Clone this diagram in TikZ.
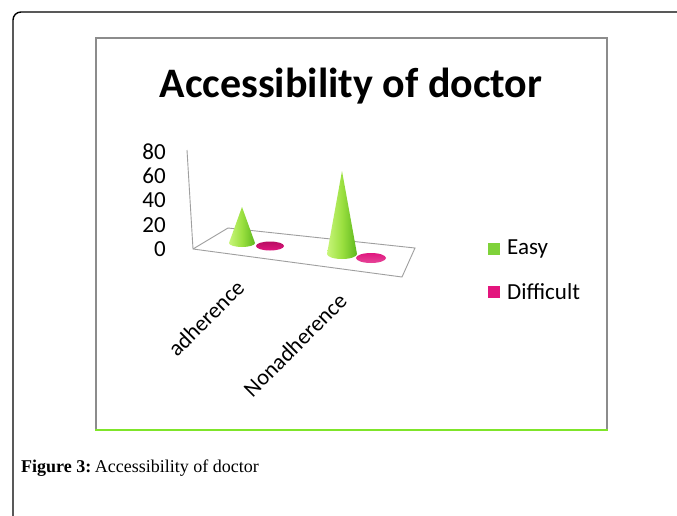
\documentclass[tikz,border=0pt]{standalone}
\usepackage{fontspec}
\setmainfont{Liberation Serif}
\newfontfamily\chartfont{Carlito}
\definecolor{boxgray}{HTML}{8C8C8C}
\definecolor{boxgreen}{HTML}{7FE52A}
\definecolor{coneL}{HTML}{C8F57A}
\definecolor{coneM}{HTML}{9BE040}
\definecolor{coneR}{HTML}{5EB81E}
\definecolor{pinkA}{HTML}{E0177F}
\definecolor{pinkB}{HTML}{B80E62}
\definecolor{legGreen}{HTML}{7FD23A}
\definecolor{legPink}{HTML}{E3157D}
\tikzset{
  axisline/.style={draw=gray!75, line width=0.9pt},
  ticklabel/.style={font=\chartfont\fontsize{23}{23}\selectfont, anchor=east, inner sep=0pt},
  catlabel/.style={font=\chartfont\fontsize{22.5}{22.5}\selectfont, rotate=45, inner sep=0pt},
  legtext/.style={font=\chartfont\fontsize{23}{23}\selectfont, anchor=west, inner sep=0pt},
}
\begin{document}
\begin{tikzpicture}[x=1pt,y=-1pt]
\useasboundingbox (0,0) rectangle (677,515);
\fill[white] (0,0) rectangle (677,515);
% outer frame
\draw[line width=1.4pt, black] (13,516) -- (13,20) arc[start angle=180, end angle=270, radius=8] -- (678,12);
% chart box
\draw[boxgray, line width=1.6pt] (96,429) -- (96,38) -- (607,38) -- (607,429);
\draw[boxgreen, line width=2pt] (95,430) -- (608,430);
% title
\node[font=\chartfont\bfseries\fontsize{42}{42}\selectfont, inner sep=0pt] (title) at (351,86) {Accessibility of doctor};
% tick labels
\node[ticklabel] (t80) at (166,152) {80};
\node[ticklabel] (t60) at (166,176) {60};
\node[ticklabel] (t40) at (166,200) {40};
\node[ticklabel] (t20) at (166,225) {20};
\node[ticklabel] (t0) at (166,249) {0};
% axes and floor
\coordinate (ytop) at (187,150);
\coordinate (o) at (193,249);
\coordinate (bl) at (228,228);
\coordinate (br) at (415,248);
\coordinate (fr) at (402,277);
\draw[axisline] (ytop) -- (o) -- (fr) -- (br) -- (bl) -- (o);
% cones
\shade[left color=coneL, right color=coneR, middle color=coneM]
  (229,243) -- (242,207) -- (255,243) arc[start angle=0, end angle=180, x radius=13, y radius=4] -- cycle;
\shade[left color=coneL, right color=coneR, middle color=coneM]
  (327,254) -- (342,171) -- (357,254) arc[start angle=0, end angle=180, x radius=15, y radius=5] -- cycle;
% pink disks
\shade[top color=pinkB, bottom color=pinkA] (270,246) ellipse[x radius=14, y radius=4.5];
\shade[top color=pinkA, bottom color=pinkA!80!white] (371,258) ellipse[x radius=15, y radius=5];
% category labels
\node[catlabel] (c1) at (206,318) {adherence};
\node[catlabel] (c2) at (295,345) {Nonadherence};
% legend
\fill[legGreen] (488,243) rectangle (500,255);
\node[legtext] (l1) at (507,249) {Easy};
\fill[legPink] (488,286) rectangle (500,298);
\node[legtext] (l2) at (507,292) {Difficult};
% caption
\node[anchor=base west, inner sep=0pt, font=\fontsize{18}{18}\selectfont] (cap) at (21,472) {\textbf{Figure 3:}\hspace{0.2em}Accessibility of doctor};
\end{tikzpicture}
\end{document}
